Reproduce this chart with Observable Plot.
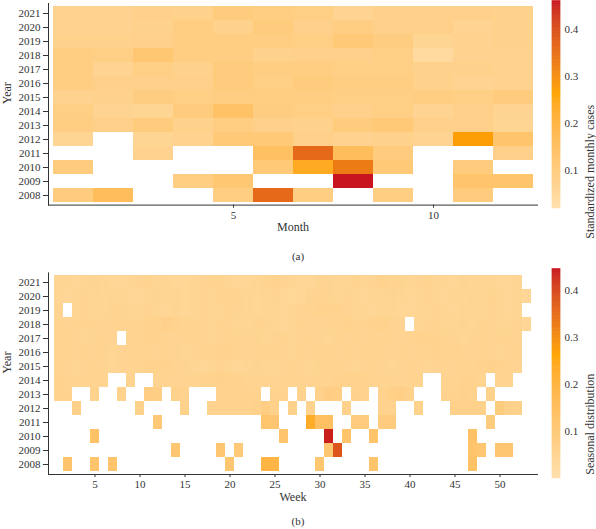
<!DOCTYPE html>
<html>
<head>
<meta charset="utf-8">
<script src="https://cdn.jsdelivr.net/npm/d3@7"></script>
<script src="https://cdn.jsdelivr.net/npm/@observablehq/plot@0.6"></script>
<style>
  body { margin: 0; background: #fff; }
  #fig { position: relative; width: 596px; height: 529px; font-family: "Liberation Serif", "DejaVu Serif", serif; color: #333; overflow: hidden; }
  #fig > * { position: absolute; }
  .cap { left: 0; width: 596px; text-align: center; font-size: 11px; line-height: 13px; }
</style>
</head>
<body>
<div id="fig"></div>
<script>
// ---- categories and ticks ----
const years = [2008, 2009, 2010, 2011, 2012, 2013, 2014, 2015, 2016, 2017, 2018, 2019, 2020, 2021];
const months = [1, 2, 3, 4, 5, 6, 7, 8, 9, 10, 11, 12];
const weeks = d3.range(1, 54);
const monthTicks = [5, 10];
const weekTicks = [5, 10, 15, 20, 25, 30, 35, 40, 45, 50];
const barTicks = [0.1, 0.2, 0.3, 0.4];

// ---- (a) standardized monthly cases, one row per year (Jan..Dec), null = no cases ----
const monthly2021 = [0.07, 0.07, 0.08, 0.075, 0.10, 0.09, 0.085, 0.065, 0.08, 0.08, 0.08, 0.075];
const monthly2020 = [0.07, 0.07, 0.075, 0.09, 0.075, 0.10, 0.08, 0.09, 0.08, 0.08, 0.065, 0.075];
const monthly2019 = [0.075, 0.075, 0.08, 0.09, 0.09, 0.09, 0.085, 0.11, 0.095, 0.06, 0.07, 0.075];
const monthly2018 = [0.09, 0.085, 0.12, 0.09, 0.09, 0.075, 0.08, 0.08, 0.085, 0.045, 0.07, 0.07];
const monthly2017 = [0.09, 0.065, 0.085, 0.075, 0.10, 0.09, 0.09, 0.085, 0.085, 0.075, 0.075, 0.07];
const monthly2016 = [0.09, 0.08, 0.08, 0.08, 0.10, 0.085, 0.10, 0.09, 0.09, 0.075, 0.065, 0.07];
const monthly2015 = [0.07, 0.075, 0.095, 0.085, 0.09, 0.09, 0.09, 0.085, 0.085, 0.09, 0.085, 0.10];
const monthly2014 = [0.085, 0.065, 0.06, 0.10, 0.14, 0.095, 0.085, 0.08, 0.085, 0.065, 0.08, 0.065];
const monthly2013 = [0.09, 0.08, 0.10, 0.075, 0.09, 0.08, 0.075, 0.10, 0.11, 0.08, 0.08, 0.06];
const monthly2012 = [0.06, null, 0.06, 0.07, 0.11, 0.11, 0.08, 0.07, 0.075, 0.065, 0.27, 0.13];
const monthly2011 = [null, null, 0.07, null, null, 0.15, 0.36, 0.16, 0.10, null, null, 0.08];
const monthly2010 = [0.10, null, null, null, null, 0.11, 0.24, 0.33, 0.11, null, 0.10, null];
const monthly2009 = [null, null, null, 0.09, 0.12, null, null, 0.46, null, null, 0.13, 0.13];
const monthly2008 = [0.10, 0.16, null, null, 0.09, 0.36, 0.09, null, 0.09, null, 0.10, null];

// ---- (b) seasonal distribution, one row per year (week 1..53), null = no cases ----
const weekly2021 = [
  0.045,0.045,0.042,0.045,0.048,0.045,0.042,0.042,0.045,0.048,
  0.05,0.045,0.045,0.042,0.04,0.045,0.048,0.05,0.052,0.045,
  0.042,0.042,0.045,0.05,0.055,0.048,0.045,0.04,0.042,0.05,
  0.048,0.045,0.045,0.05,0.045,0.048,0.055,0.05,0.05,0.045,
  0.048,0.05,0.045,0.045,0.042,0.048,0.045,0.045,0.045,0.04,
  0.042,0.045,null];
const weekly2020 = [
  0.045,0.042,0.045,0.048,0.045,0.042,0.045,0.045,0.04,0.042,
  0.045,0.048,0.045,0.045,0.042,0.045,0.048,0.045,0.05,0.052,
  0.05,0.045,0.042,0.045,0.048,0.04,0.038,0.042,0.048,0.052,
  0.05,0.045,0.048,0.045,0.042,0.045,0.045,0.048,0.045,0.042,
  0.045,0.048,0.045,0.042,0.045,0.045,0.048,0.045,0.05,0.045,
  0.042,0.045,0.04];
const weekly2019 = [
  0.048,null,0.045,0.048,0.045,0.045,0.05,0.048,0.045,0.045,
  0.048,0.045,0.042,0.045,0.04,0.045,0.048,0.045,0.045,0.05,
  0.048,0.045,0.042,0.045,0.045,0.042,0.045,0.048,0.05,0.058,
  0.055,0.055,0.048,0.045,0.045,0.042,0.045,0.045,0.04,0.042,
  0.045,0.045,0.048,0.045,0.042,0.045,0.045,0.045,0.048,0.045,
  0.042,0.045,null];
const weekly2018 = [
  0.05,0.048,0.05,0.052,0.05,0.048,0.05,0.05,0.052,0.05,
  0.055,0.058,0.065,0.055,0.05,0.05,0.048,0.045,0.05,0.048,
  0.045,0.045,0.05,0.048,0.045,0.042,0.045,0.05,0.048,0.048,
  0.05,0.052,0.055,0.05,0.052,0.058,0.06,0.05,0.048,null,
  0.045,0.048,0.05,0.045,0.045,0.048,0.045,0.05,0.048,0.045,
  0.045,0.048,0.042];
const weekly2017 = [
  0.05,0.05,0.048,0.045,0.048,0.05,0.048,null,0.05,0.052,
  0.058,0.055,0.05,0.048,0.05,0.05,0.048,0.045,0.048,0.05,
  0.052,0.048,0.05,0.045,0.048,0.05,0.045,0.048,0.05,0.048,
  0.045,0.05,0.048,0.05,0.048,0.05,0.052,0.05,0.048,0.05,
  0.055,0.058,0.055,0.05,0.048,0.045,0.048,0.05,0.048,0.052,
  0.05,0.048,null];
const weekly2016 = [
  0.052,0.05,0.048,0.05,0.048,0.05,0.045,0.048,0.05,0.052,
  0.05,0.048,0.05,0.048,0.045,0.048,0.05,0.052,0.058,0.055,
  0.052,0.048,0.05,0.055,0.05,0.048,0.045,0.05,0.048,0.052,
  0.05,0.048,0.05,0.048,0.05,0.052,0.05,0.048,0.05,0.048,
  0.05,0.052,0.058,0.05,0.058,0.05,0.048,0.05,0.048,0.045,
  0.048,0.05,null];
const weekly2015 = [
  0.05,0.048,0.045,0.048,0.05,0.048,0.045,0.048,0.05,0.052,
  0.055,0.058,0.055,0.05,0.048,0.045,0.042,0.045,0.048,0.045,
  0.042,0.045,0.048,0.045,0.045,0.048,0.05,0.048,0.045,0.05,
  0.052,0.05,0.048,0.045,0.048,0.05,0.048,0.045,0.048,0.05,
  0.048,0.045,0.048,0.05,0.048,0.05,0.052,0.058,0.06,0.055,
  0.05,0.048,null];
const weekly2014 = [
  0.055,0.052,0.05,0.05,0.052,0.05,null,null,0.05,null,
  null,0.048,0.05,0.048,0.05,0.052,0.055,0.058,0.06,0.058,
  0.055,0.05,0.052,0.05,0.048,0.05,0.052,0.05,0.048,0.05,
  0.052,0.055,0.058,0.058,0.055,0.05,0.052,0.05,0.048,0.05,
  0.052,null,null,0.05,0.052,0.055,0.055,0.05,null,0.05,
  0.052,null,null];
const weekly2013 = [
  0.058,0.055,null,null,0.058,null,null,0.058,null,null,
  0.075,0.072,null,0.06,0.058,null,null,null,0.055,0.058,
  0.055,0.055,0.058,null,0.055,0.058,null,0.055,null,0.062,
  0.075,0.072,null,0.06,0.058,null,0.058,0.068,0.07,0.06,
  null,null,null,0.058,0.058,0.06,0.058,null,0.06,null,
  null,null,null];
const weekly2012 = [
  null,null,0.065,null,null,null,null,null,null,0.06,
  null,null,null,null,0.06,null,null,0.055,0.055,0.058,
  0.055,0.058,0.06,0.075,0.062,null,0.06,null,0.058,null,
  null,null,0.06,null,null,null,0.058,0.058,null,null,
  0.06,null,null,null,0.065,0.065,0.065,0.06,null,0.085,
  0.065,0.06,null];
const weekly2011 = [
  null,null,null,null,null,null,null,null,null,null,
  null,0.10,null,null,null,null,null,null,null,null,
  null,null,null,0.12,0.11,null,null,null,0.23,0.14,
  0.14,null,null,0.09,0.09,null,0.085,0.085,null,null,
  null,null,null,null,null,null,null,null,0.085,null,
  null,null,null];
const weekly2010 = [
  null,null,null,null,0.13,null,null,null,null,null,
  null,null,null,null,null,null,null,null,null,null,
  null,null,null,null,null,0.12,null,null,null,null,
  0.44,null,0.12,null,null,0.12,null,null,null,null,
  null,null,null,null,null,null,0.13,null,null,null,
  null,null,null];
const weekly2009 = [
  null,null,null,null,null,null,null,null,null,null,
  null,null,null,0.11,null,null,null,null,0.11,null,
  0.10,null,null,null,null,null,null,null,null,null,
  0.11,0.38,null,null,null,null,null,null,null,null,
  null,null,null,null,null,null,0.12,0.11,null,0.11,
  0.11,null,null];
const weekly2008 = [
  null,0.12,null,null,0.12,null,0.12,null,null,null,
  null,null,null,null,null,null,null,null,null,0.11,
  null,null,null,0.19,0.19,null,null,null,null,0.11,
  null,null,null,null,null,0.12,null,null,null,null,
  null,null,null,null,null,null,0.13,null,null,null,
  null,null,null];

const monthlyRows = [monthly2008, monthly2009, monthly2010, monthly2011, monthly2012, monthly2013, monthly2014,
                     monthly2015, monthly2016, monthly2017, monthly2018, monthly2019, monthly2020, monthly2021];
const weeklyRows = [weekly2008, weekly2009, weekly2010, weekly2011, weekly2012, weekly2013, weekly2014,
                    weekly2015, weekly2016, weekly2017, weekly2018, weekly2019, weekly2020, weekly2021];

// long tables for the cell marks
const monthlyTable = years.flatMap((year, i) =>
  monthlyRows[i].map((value, j) => ({year, period: months[j], value})).filter(d => d.value != null));
const weeklyTable = years.flatMap((year, i) =>
  weeklyRows[i].map((value, j) => ({year, period: weeks[j], value})).filter(d => d.value != null));

// colour ramps: navajo white -> orange -> deep red
const rampColors = ["#ffdfab", "#ffa500", "#c8141e"];
const monthlyColor = {type: "linear", domain: [0.02, 0.26, 0.46], range: rampColors, interpolate: "lab"};
const weeklyColor  = {type: "linear", domain: [0, 0.26, 0.445], range: rampColors, interpolate: "lab"};

const baseStyle = {fontFamily: "'Liberation Serif', 'DejaVu Serif', serif", fontSize: "11px", color: "#333", background: "transparent", overflow: "visible"};

function heatmap(table, periods, ticks, xLabel, color, opts) {
  return Plot.plot({
    width: 540,
    height: opts.height,
    marginLeft: 48,
    marginRight: 3,
    marginTop: opts.marginTop,
    marginBottom: opts.marginBottom,
    style: baseStyle,
    x: {type: "band", domain: periods, padding: 0, ticks, tickSize: 3, tickPadding: 3, label: null, line: true},
    y: {type: "band", domain: years.slice().reverse(), padding: 0, tickSize: 5, tickPadding: 3, tickFormat: "d", label: null, line: true},
    color,
    marks: [
      Plot.cell(table, {x: "period", y: "year", fill: "value", inset: 0}),
      Plot.text([xLabel], {frameAnchor: "bottom", dy: 26, fontSize: 12}),
      Plot.text(["Year"], {frameAnchor: "left", dx: -41, rotate: -90, fontSize: 12})
    ]
  });
}

function colorbar(color, domain, label, opts) {
  const n = 300;
  const step = (domain[1] - domain[0]) / n;
  const stops = d3.range(n).map(i => domain[0] + i * step);
  return Plot.plot({
    width: 56,
    height: opts.height,
    marginLeft: 12,
    marginRight: 36,
    marginTop: opts.marginTop,
    marginBottom: opts.marginBottom,
    style: baseStyle,
    x: {domain: [0, 1], axis: null},
    y: {domain, ticks: barTicks, tickSize: 0, tickPadding: 4, tickFormat: ".1f", axis: "right", label: null},
    color,
    marks: [
      Plot.rect(stops, {x1: 0, x2: 1, y1: d => d, y2: d => d + step, fill: d => d + step / 2, stroke: d => d + step / 2, strokeWidth: 0.5}),
      Plot.text([label], {frameAnchor: "right", dx: 30, rotate: -90, fontSize: 12})
    ]
  });
}

const fig = document.getElementById("fig");
function place(el, left, top) { el.style.left = left + "px"; el.style.top = top + "px"; fig.appendChild(el); }

// (a) monthly panel
place(heatmap(monthlyTable, months, monthTicks, "Month", monthlyColor, {height: 245, marginTop: 3, marginBottom: 40.4}), 0, 0);
place(colorbar(monthlyColor, [0.02, 0.46], "Standardized monthly cases", {height: 215, marginTop: 0.5, marginBottom: 7}), 540, 0);

// (b) weekly panel
place(heatmap(weeklyTable, weeks, weekTicks, "Week", weeklyColor, {height: 250, marginTop: 10.4, marginBottom: 38}), 0, 262);
place(colorbar(weeklyColor, [0, 0.445], "Seasonal distribution", {height: 222, marginTop: 6.5, marginBottom: 6}), 540, 262);

// panel captions
for (const [text, top] of [["(a)", 249.5], ["(b)", 514.5]]) {
  const cap = document.createElement("div");
  cap.className = "cap";
  cap.textContent = text;
  place(cap, 0, top);
}
</script>
</body>
</html>
